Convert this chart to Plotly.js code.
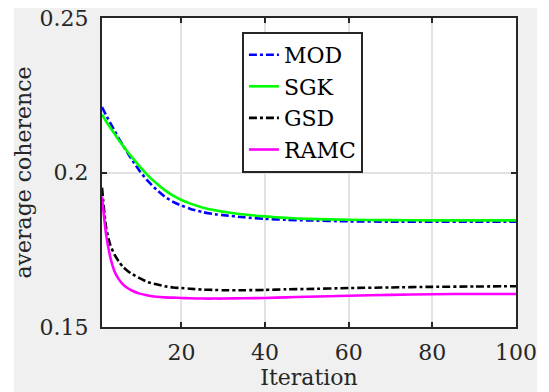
<!DOCTYPE html>
<html>
<head>
<meta charset="utf-8">
<script src="https://cdn.plot.ly/plotly-3.0.1.min.js"></script>
<style>
  html, body { margin: 0; padding: 0; background: #ffffff; width: 549px; height: 392px; overflow: hidden; }
  #bg { position: absolute; left: 14px; top: 8px; width: 523px; height: 384px; background: #f0f0f0; }
  #plot { position: absolute; left: 0; top: 0; width: 549px; height: 392px; }
</style>
</head>
<body>
<div id="bg"></div>
<div id="plot"></div>
<script>
// Iteration positions (x) for each sampled value
const iterations = [1, 2, 3, 4, 5, 6, 7, 8, 10, 12, 14, 16, 18, 20, 22, 25, 28, 30, 35, 40, 45, 50, 60, 70, 80, 90, 100];

// Average coherence per method
const modValues  = [0.2212, 0.2185, 0.2160, 0.2135, 0.2110, 0.2088, 0.2066, 0.2045, 0.2005, 0.1972, 0.1945, 0.1922, 0.1905, 0.1893, 0.1883, 0.1872, 0.1865, 0.1862, 0.1855, 0.1850, 0.1847, 0.1845, 0.1842, 0.1841, 0.1841, 0.1841, 0.1841];
const sgkValues  = [0.2188, 0.2165, 0.2145, 0.2125, 0.2105, 0.2087, 0.2069, 0.2052, 0.2020, 0.1990, 0.1965, 0.1943, 0.1925, 0.1911, 0.1900, 0.1887, 0.1878, 0.1873, 0.1864, 0.1858, 0.1853, 0.1850, 0.1847, 0.1846, 0.1845, 0.1845, 0.1845];
const gsdValues  = [0.1951, 0.1820, 0.1765, 0.1734, 0.1712, 0.1695, 0.1683, 0.1673, 0.1658, 0.1645, 0.1638, 0.1632, 0.1628, 0.1626, 0.1624, 0.1621, 0.1620, 0.1619, 0.1619, 0.1620, 0.1622, 0.1623, 0.1626, 0.1628, 0.1630, 0.1631, 0.1632];
const ramcValues = [0.1922, 0.1798, 0.1725, 0.1680, 0.1655, 0.1638, 0.1627, 0.1619, 0.1608, 0.1602, 0.1598, 0.1596, 0.1595, 0.1594, 0.1593, 0.1592, 0.1592, 0.1592, 0.1593, 0.1594, 0.1596, 0.1598, 0.1601, 0.1604, 0.1606, 0.1607, 0.1607];

const seriesNames = ["MOD", "SGK", "GSD", "RAMC"];
const seriesColors = ["#0000ff", "#00ff00", "#000000", "#ff00ff"];
const seriesDash = ["8px,3px,3px,3px", "solid", "8px,3px,3px,3px", "solid"];
const seriesValues = [modValues, sgkValues, gsdValues, ramcValues];

const xTickVals = [20, 40, 60, 80, 100];
const yTickVals = [0.15, 0.2, 0.25];
const yTickText = ["0.15", "0.2", "0.25"];

const FONT = "DejaVu Serif";

const traces = seriesNames.map((name, i) => ({
  x: iterations,
  y: seriesValues[i],
  name: name,
  type: "scatter",
  mode: "lines",
  line: { color: seriesColors[i], width: 2.6, dash: seriesDash[i], shape: "spline", smoothing: 0.6 }
}));

const axisCommon = {
  showline: true, mirror: "ticks", linecolor: "#262626", linewidth: 2,
  ticks: "inside", ticklen: 5, tickwidth: 2, tickcolor: "#262626",
  showgrid: true, gridcolor: "#e2e2e2", gridwidth: 2,
  zeroline: false, ticklabeloverflow: "allow",
  tickfont: { family: FONT, size: 22, color: "#262626" }
};

const layout = {
  width: 549, height: 392,
  margin: { l: 102, r: 33, t: 18, b: 65, pad: 0 },
  paper_bgcolor: "rgba(0,0,0,0)",
  plot_bgcolor: "#ffffff",
  font: { family: FONT, size: 22, color: "#262626" },
  showlegend: true,
  legend: {
    x: 0.338, y: 0.955, xanchor: "left", yanchor: "top",
    bgcolor: "#ffffff", bordercolor: "#262626", borderwidth: 2,
    font: { family: FONT, size: 22, color: "#000000" },
    tracegroupgap: 0, itemwidth: 30
  },
  xaxis: Object.assign({}, axisCommon, {
    range: [1, 100.0001], tickvals: xTickVals, ticklabelstandoff: 5,
    title: { text: "Iteration", font: { family: FONT, size: 22, color: "#262626" }, standoff: 5 }
  }),
  yaxis: Object.assign({}, axisCommon, {
    range: [0.149999, 0.250001], tickvals: yTickVals, ticktext: yTickText, ticklabelstandoff: 7,
    title: { text: "average coherence", font: { family: FONT, size: 22, color: "#262626" }, standoff: 2 }
  })
};

Plotly.newPlot("plot", traces, layout, { displayModeBar: false, staticPlot: true });
</script>
</body>
</html>
